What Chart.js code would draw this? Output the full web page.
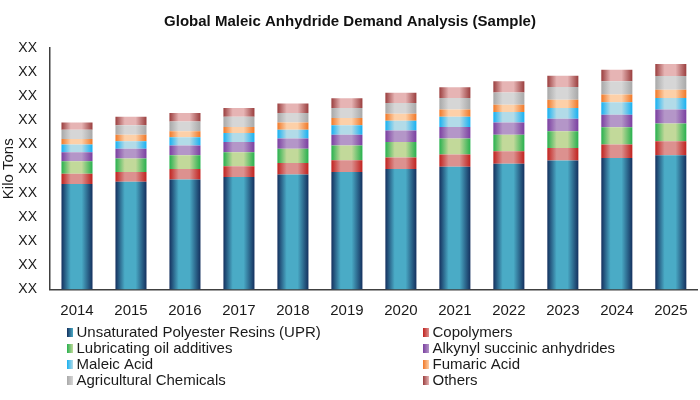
<!DOCTYPE html>
<html>
<head>
<meta charset="utf-8">
<script src="https://cdn.jsdelivr.net/npm/chart.js@4"></script>
<style>
  html, body { margin: 0; padding: 0; background: #fff; }
  #wrap { width: 700px; height: 400px; position: relative; }
</style>
</head>
<body>
<div id="wrap"><canvas id="c" width="700" height="400"></canvas></div>
<script>
// ---- Data ----
const years = ['2014','2015','2016','2017','2018','2019','2020','2021','2022','2023','2024','2025'];
const upr        = [43.7, 44.6, 45.5, 46.6, 47.6, 48.7, 49.9, 50.8, 52.1, 53.4, 54.5, 55.6];
const copolymers = [4.2, 4.1, 4.4, 4.4, 4.8, 4.8, 4.8, 5.1, 5.1, 5.2, 5.5, 5.8];
const lubricating= [5.2, 5.5, 5.7, 5.8, 5.9, 6.1, 6.4, 6.6, 6.9, 6.9, 7.2, 7.3];
const alkynyl    = [3.7, 4.1, 4.0, 4.3, 4.2, 4.5, 4.7, 4.8, 5.1, 5.2, 5.2, 5.8];
const maleicAcid = [3.2, 3.1, 3.4, 3.7, 3.7, 3.9, 4.1, 4.2, 4.3, 4.5, 5.1, 4.8];
const fumaricAcid= [2.3, 2.7, 2.5, 2.5, 3.0, 3.0, 2.9, 3.0, 3.0, 3.4, 3.2, 3.4];
const agriChem   = [3.9, 3.9, 4.1, 4.2, 3.9, 4.2, 4.4, 4.8, 5.1, 5.3, 5.5, 5.7];
const others     = [3.0, 3.5, 3.5, 3.7, 3.9, 4.0, 4.3, 4.4, 4.6, 4.6, 4.8, 5.0];
const seriesNames = ['Unsaturated Polyester Resins (UPR)', 'Copolymers', 'Lubricating oil additives',
  'Alkynyl succinic anhydrides', 'Maleic Acid', 'Fumaric Acid', 'Agricultural Chemicals', 'Others'];
const yTickLabel = 'XX';
const chartTitle = 'Global Maleic Anhydride Demand Analysis (Sample)';
const yTitle = 'Kilo Tons';

// ---- Styles ----
const edgeColors   = ['#14305e', '#c0221f', '#28b04e', '#7a3fa0', '#18b0f0', '#f07828', '#a8a8a8', '#9a3e3e'];
const centerColors = ['#4aabc6', '#dc918f', '#c2d99a', '#b496c8', '#b2dbe8', '#fdd0a8', '#d6d6d6', '#e6b4b4'];
const BAR_PCT = 0.575;
const FONT = '"Liberation Sans", Arial, sans-serif';

function makeGrad(ctx, x0, x1, i) {
  const g = ctx.createLinearGradient(x0, 0, x1, 0);
  g.addColorStop(0, edgeColors[i]);
  g.addColorStop(0.3, centerColors[i]);
  g.addColorStop(0.65, centerColors[i]);
  g.addColorStop(1, edgeColors[i]);
  return g;
}

function barFill(i) {
  return function(c) {
    const chart = c.chart;
    const xs = chart.scales && chart.scales.x;
    if (!chart.chartArea || !xs || c.dataIndex === undefined) return edgeColors[i];
    const cx = xs.getPixelForValue(c.dataIndex);
    const w = (xs.width / years.length) * BAR_PCT;
    if (!isFinite(cx) || !isFinite(w)) return edgeColors[i];
    return makeGrad(chart.ctx, cx - w / 2, cx + w / 2, i);
  };
}

const seriesValues = [upr, copolymers, lubricating, alkynyl, maleicAcid, fumaricAcid, agriChem, others];
const datasets = seriesValues.map((vals, i) => ({
  label: seriesNames[i],
  data: vals,
  backgroundColor: barFill(i),
  borderWidth: 0,
  categoryPercentage: 1,
  barPercentage: BAR_PCT
}));

// ---- Custom two-column legend ----
const legendPlugin = {
  id: 'twoColLegend',
  afterDraw(chart) {
    const ctx = chart.ctx;
    const colX = [67, 423];
    const rowY0 = 332.5, rowH = 16;
    ctx.save();
    ctx.font = '15px ' + FONT;
    ctx.textBaseline = 'middle';
    ctx.textAlign = 'left';
    seriesNames.forEach((name, i) => {
      const col = i % 2, row = Math.floor(i / 2);
      const x = colX[col], y = rowY0 + row * rowH;
      const g = ctx.createLinearGradient(x, 0, x + 6, 0);
      g.addColorStop(0, edgeColors[i]);
      g.addColorStop(1, centerColors[i]);
      ctx.fillStyle = g;
      ctx.fillRect(x, y - 4.5, 6, 9);
      ctx.fillStyle = '#1a1a1a';
      ctx.fillText(name, x + 9.5, y + 0.5);
    });
    ctx.restore();
  }
};

new Chart(document.getElementById('c'), {
  type: 'bar',
  data: { labels: years, datasets },
  options: {
    responsive: false,
    animation: false,
    layout: { padding: { left: 0, right: 0, top: 0, bottom: 67.5 } },
    plugins: {
      legend: { display: false },
      tooltip: { enabled: false },
      title: {
        display: true,
        text: chartTitle,
        color: '#111',
        font: { family: FONT, size: 15, weight: 'bold' },
        padding: { top: 13, bottom: 17 }
      }
    },
    scales: {
      x: {
        stacked: true,
        grid: { display: false, drawTicks: false },
        border: { display: true, color: '#404040', width: 1.5 },
        ticks: { color: '#1a1a1a', font: { family: FONT, size: 15 }, padding: 12.5, maxRotation: 0 }
      },
      y: {
        stacked: true,
        min: 0, max: 100,
        afterFit: (scale) => { scale.width = 50; },
        grid: { display: false, drawTicks: false },
        border: { display: true, color: '#404040', width: 1.5 },
        ticks: {
          stepSize: 10,
          color: '#1a1a1a',
          font: { family: FONT, size: 14 },
          padding: 13,
          callback: () => yTickLabel
        },
        title: {
          display: true,
          text: yTitle,
          color: '#1a1a1a',
          font: { family: FONT, size: 15 },
          padding: { top: 0, bottom: 0 }
        }
      }
    }
  },
  plugins: [legendPlugin]
});
</script>
</body>
</html>
